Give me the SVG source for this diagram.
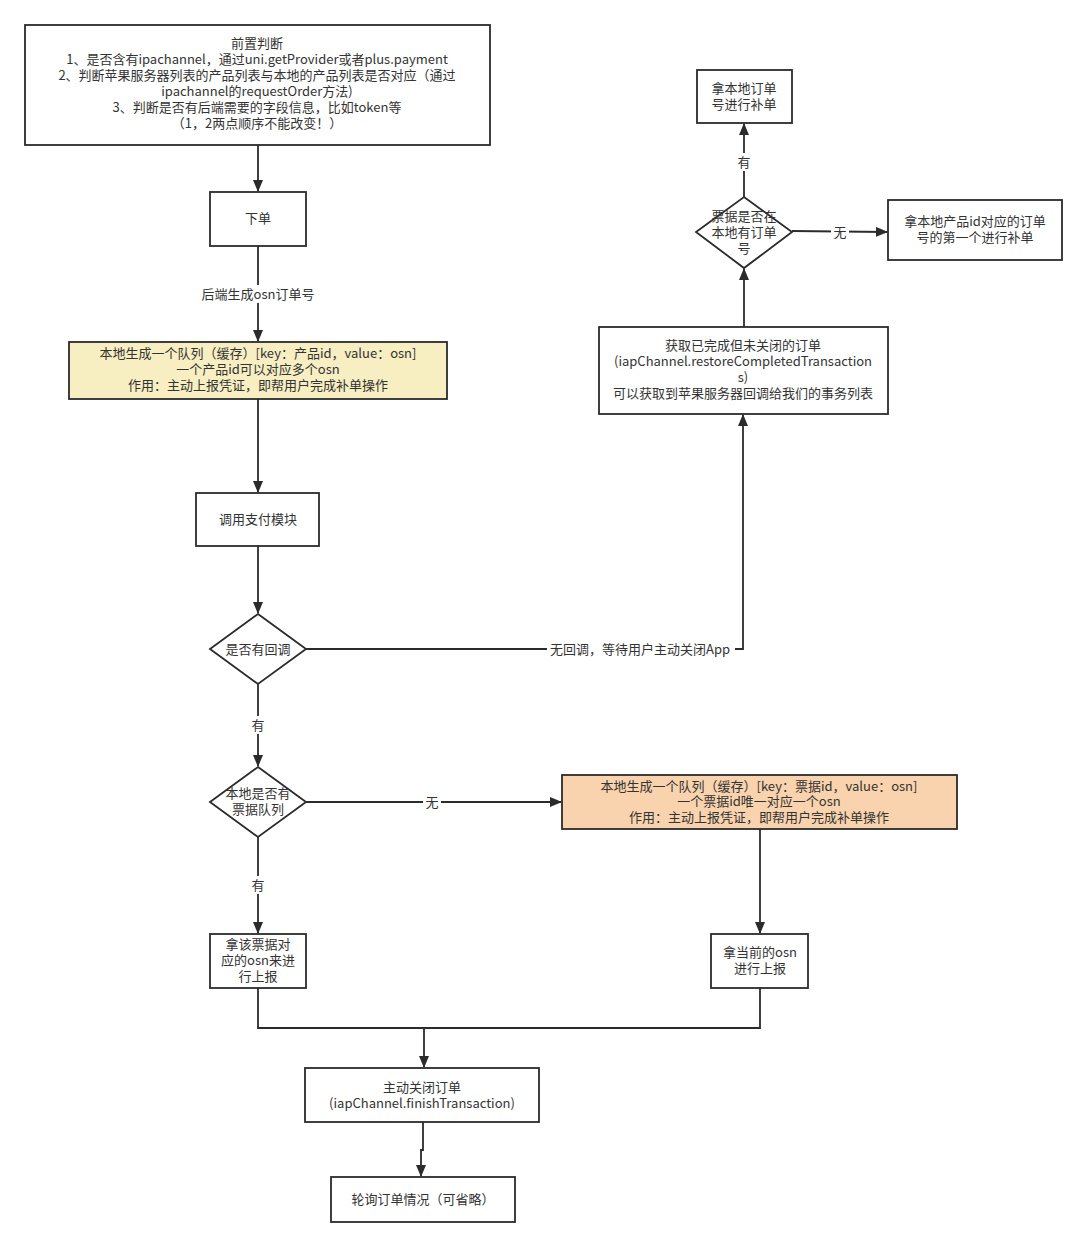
<svg xmlns="http://www.w3.org/2000/svg" width="1087" height="1247" viewBox="0 0 1087 1247">
<defs>
<style>
.n{fill:#fff;stroke:#2b2b2b;stroke-width:1.8}
.t{font-family:"Noto Sans CJK SC","Liberation Sans",sans-serif;font-size:13px;fill:#333;text-anchor:middle}
.c{fill:none;stroke:#2b2b2b;stroke-width:1.8}
.lb{fill:#fff}
</style>
<marker id="a" viewBox="0 0 12 10" refX="11" refY="5" markerWidth="12" markerHeight="10" orient="auto" markerUnits="userSpaceOnUse">
<path d="M0,0 L12,5 L0,10 Z" fill="#2b2b2b"/>
</marker>
</defs>
<rect width="1087" height="1247" fill="#fff"/>
<g id="connectors">
<path class="c" d="M258,145 V191" marker-end="url(#a)"/>
<path class="c" d="M258,246 V341" marker-end="url(#a)"/>
<rect class="lb" x="198" y="285" width="122" height="18"/>
<text class="t" x="258" y="299">后端生成osn订单号</text>
<path class="c" d="M258,399 V492" marker-end="url(#a)"/>
<path class="c" d="M258,546 V613" marker-end="url(#a)"/>
<path class="c" d="M306,649 H743 V415" marker-end="url(#a)"/>
<rect class="lb" x="547" y="640" width="188" height="18"/>
<text class="t" x="640" y="654">无回调，等待用户主动关闭App</text>
<path class="c" d="M744,327 V269" marker-end="url(#a)"/>
<path class="c" d="M744,197 V124" marker-end="url(#a)"/>
<rect class="lb" x="735" y="153" width="18" height="18"/>
<text class="t" x="744" y="167">有</text>
<path class="c" d="M792,231 L887,232" marker-end="url(#a)"/>
<rect class="lb" x="831" y="223" width="18" height="18"/>
<text class="t" x="840" y="237">无</text>
<path class="c" d="M258,684 V766" marker-end="url(#a)"/>
<rect class="lb" x="249" y="716" width="18" height="18"/>
<text class="t" x="258" y="730">有</text>
<path class="c" d="M306,802 H561" marker-end="url(#a)"/>
<rect class="lb" x="423" y="793" width="18" height="18"/>
<text class="t" x="432" y="807">无</text>
<path class="c" d="M760,829 V933" marker-end="url(#a)"/>
<path class="c" d="M258,837 V933" marker-end="url(#a)"/>
<rect class="lb" x="249" y="876" width="18" height="18"/>
<text class="t" x="258" y="890">有</text>
<path class="c" d="M258,988 V1028 H760 V988"/>
<path class="c" d="M424,1028 V1067" marker-end="url(#a)"/>
<path class="c" d="M423,1122 V1150 H421 V1176" marker-end="url(#a)"/>
</g>
<g id="n1">
<rect class="n" x="25" y="25" width="465" height="120"/>
<text class="t" x="257" y="48">前置判断</text>
<text class="t" x="257" y="64">1、是否含有ipachannel，通过uni.getProvider或者plus.payment</text>
<text class="t" x="257" y="80">2、判断苹果服务器列表的产品列表与本地的产品列表是否对应（通过</text>
<text class="t" x="257" y="96">ipachannel的requestOrder方法)</text>
<text class="t" x="257" y="112">3、判断是否有后端需要的字段信息，比如token等</text>
<text class="t" x="257" y="128">（1，2两点顺序不能改变！）</text>
</g>
<g id="n2">
<rect class="n" x="210" y="192" width="96" height="54"/>
<text class="t" x="258" y="223">下单</text>
</g>
<g id="n3">
<rect class="n" x="69" y="342" width="378" height="57" style="fill:#f7eec2"/>
<text class="t" x="258" y="358">本地生成一个队列（缓存）[key：产品id，value：osn]</text>
<text class="t" x="258" y="374">一个产品id可以对应多个osn</text>
<text class="t" x="258" y="390">作用：主动上报凭证，即帮用户完成补单操作</text>
</g>
<g id="n4">
<rect class="n" x="196" y="493" width="123" height="53"/>
<text class="t" x="258" y="524">调用支付模块</text>
</g>
<g id="n5">
<path class="n" d="M258,614 L306,649 L258,684 L210,649 Z"/>
<text class="t" x="258" y="654">是否有回调</text>
</g>
<g id="n6">
<rect class="n" x="599" y="327" width="289" height="87"/>
<text class="t" x="743" y="350">获取已完成但未关闭的订单</text>
<text class="t" x="743" y="366">(iapChannel.restoreCompletedTransaction</text>
<text class="t" x="743" y="382">s)</text>
<text class="t" x="743" y="398">可以获取到苹果服务器回调给我们的事务列表</text>
</g>
<g id="n7">
<path class="n" d="M744,197 L792,232 L744,268 L696,232 Z"/>
<text class="t" x="744" y="221">票据是否在</text>
<text class="t" x="744" y="237">本地有订单</text>
<text class="t" x="744" y="253">号</text>
</g>
<g id="n8">
<rect class="n" x="697" y="70" width="95" height="53"/>
<text class="t" x="744" y="93">拿本地订单</text>
<text class="t" x="744" y="109">号进行补单</text>
</g>
<g id="n9">
<rect class="n" x="888" y="200" width="174" height="60"/>
<text class="t" x="975" y="226">拿本地产品id对应的订单</text>
<text class="t" x="975" y="242">号的第一个进行补单</text>
</g>
<g id="n10">
<path class="n" d="M258,767 L306,802 L258,837 L210,802 Z"/>
<text class="t" x="258" y="798">本地是否有</text>
<text class="t" x="258" y="814">票据队列</text>
</g>
<g id="n11">
<rect class="n" x="562" y="775" width="395" height="54" style="fill:#f9d3ad"/>
<text class="t" x="759" y="791">本地生成一个队列（缓存）[key：票据id，value：osn]</text>
<text class="t" x="759" y="806">一个票据id唯一对应一个osn</text>
<text class="t" x="759" y="822">作用：主动上报凭证，即帮用户完成补单操作</text>
</g>
<g id="n12">
<rect class="n" x="210" y="934" width="96" height="54"/>
<text class="t" x="258" y="949">拿该票据对</text>
<text class="t" x="258" y="965">应的osn来进</text>
<text class="t" x="258" y="981">行上报</text>
</g>
<g id="n13">
<rect class="n" x="711" y="934" width="97" height="54"/>
<text class="t" x="760" y="957">拿当前的osn</text>
<text class="t" x="760" y="973">进行上报</text>
</g>
<g id="n14">
<rect class="n" x="305" y="1068" width="234" height="54"/>
<text class="t" x="422" y="1092">主动关闭订单</text>
<text class="t" x="422" y="1108">(iapChannel.finishTransaction)</text>
</g>
<g id="n15">
<rect class="n" x="331" y="1177" width="184" height="45"/>
<text class="t" x="423" y="1204">轮询订单情况（可省略）</text>
</g>
</svg>
